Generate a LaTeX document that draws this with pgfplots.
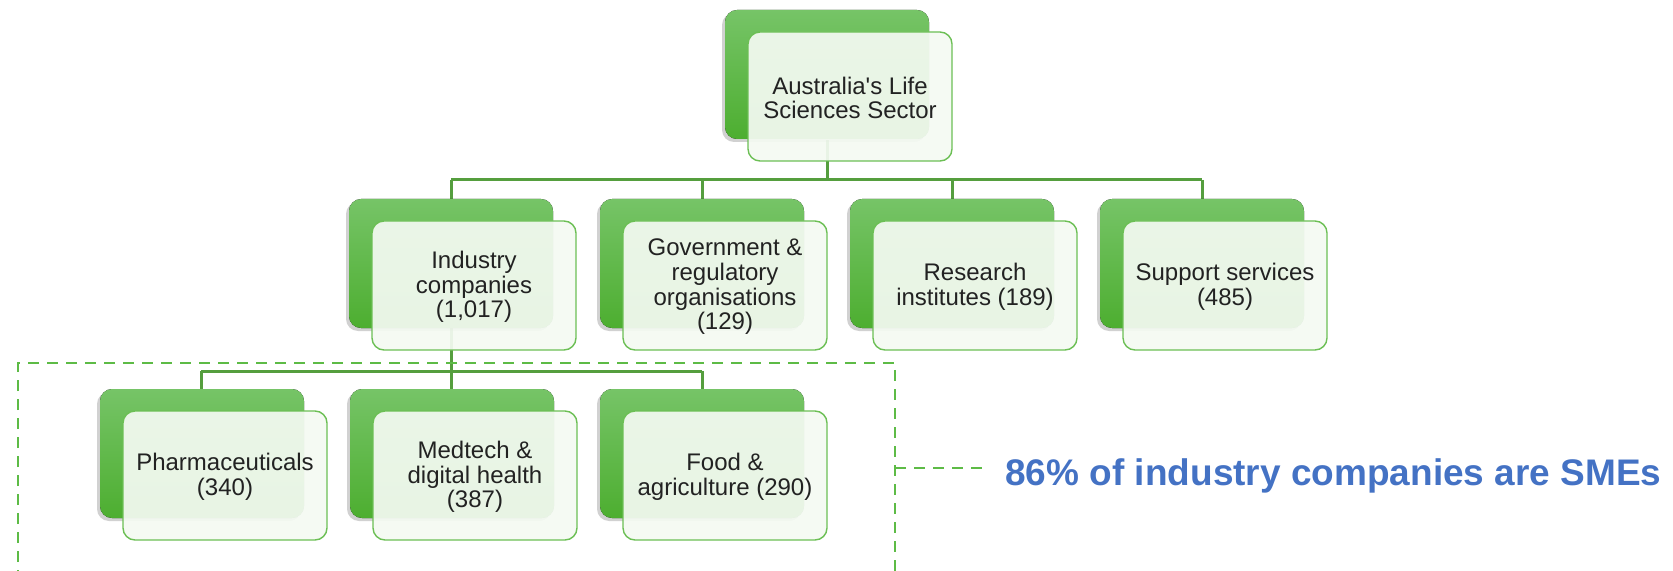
\documentclass[border=0pt]{standalone}
\usepackage{pgfplots}
\pgfplotsset{compat=1.18}
\usepackage{fontspec}
\setmainfont{Liberation Sans}
\newfontfamily\rawfont{Liberation Sans}[Mapping=]
\usetikzlibrary{shadows}
\definecolor{gtop}{HTML}{76C467}
\definecolor{gbot}{HTML}{4DAE30}
\definecolor{gborder}{HTML}{6CBF55}
\definecolor{gline}{HTML}{559E3E}
\definecolor{gdash}{HTML}{5DBB46}
\definecolor{gfront}{HTML}{F4FAF2}
\definecolor{hblue}{HTML}{4472C4}
\definecolor{tgray}{HTML}{222222}
\begin{document}
\begin{tikzpicture}[
  backbox/.style={rounded corners=6pt, top color=gtop, bottom color=gbot, draw=none,
    drop shadow={shadow xshift=-1.5pt, shadow yshift=-1.5pt, opacity=0.18, fill=black}},
  frontbox/.style={rounded corners=6pt, fill=gfront, fill opacity=0.93, draw=gborder, line width=0.7pt},
  boxtext/.style={align=center, text=tgray, font=\fontsize{12}{12.3}\selectfont, inner sep=0pt}
]
\newcommand{\orgbox}[3]{%
  \fill[backbox] (axis cs:#1,#2) rectangle (axis cs:#1+204,#2+129);
  \draw[frontbox] (axis cs:#1+23,#2+22) rectangle (axis cs:#1+227,#2+151);
  \node[boxtext] at (axis cs:#1+125,#2+88) {#3};
}
\begin{axis}[
  scale only axis, width=836.5pt, height=285.5pt,
  xmin=0, xmax=1673, ymin=0, ymax=571, y dir=reverse,
  axis lines=none, clip=true
]
\path (axis cs:0,0) rectangle (axis cs:1673,571);
% connectors level 1 -> 2
\addplot[gline, line width=1.5pt] coordinates {(827,140) (827,180)};
\addplot[gline, line width=1.5pt] coordinates {(451,180) (1202,180)};
\addplot[gline, line width=1.5pt] coordinates {(451,180) (451,199)};
\addplot[gline, line width=1.5pt] coordinates {(702,180) (702,199)};
\addplot[gline, line width=1.5pt] coordinates {(952,180) (952,199)};
\addplot[gline, line width=1.5pt] coordinates {(1202,180) (1202,199)};
% connectors level 2 -> 3
\addplot[gline, line width=1.5pt] coordinates {(451,328) (451,371)};
\addplot[gline, line width=1.5pt] coordinates {(201,371) (702,371)};
\addplot[gline, line width=1.5pt] coordinates {(201,371) (201,389)};
\addplot[gline, line width=1.5pt] coordinates {(451,371) (451,389)};
\addplot[gline, line width=1.5pt] coordinates {(702,371) (702,389)};
% dashed frame
\addplot[gdash, line width=1pt, dash pattern=on 5.5pt off 4pt] coordinates {(18,600) (18,363) (895,363) (895,600)};
\addplot[gdash, line width=1pt, dash pattern=on 5.5pt off 4pt] coordinates {(895,468) (983,468)};
% boxes
\orgbox{725}{10}{{\rawfont Australia's Life}\\Sciences Sector}
\orgbox{349}{199}{Industry\\companies\\(1,017)}
\orgbox{600}{199}{Government \&\\regulatory\\organisations\\(129)}
\orgbox{850}{199}{Research\\institutes (189)}
\orgbox{1100}{199}{Support services\\(485)}
\orgbox{100}{389}{Pharmaceuticals\\(340)}
\orgbox{350}{389}{Medtech \&\\digital health\\(387)}
\orgbox{600}{389}{Food \&\\agriculture (290)}
\node[anchor=base west, inner sep=0pt, text=hblue, font=\fontsize{18.5}{20}\selectfont\bfseries] at (axis cs:1005,485) {86\% of industry companies are SMEs};
\end{axis}
\end{tikzpicture}
\end{document}
